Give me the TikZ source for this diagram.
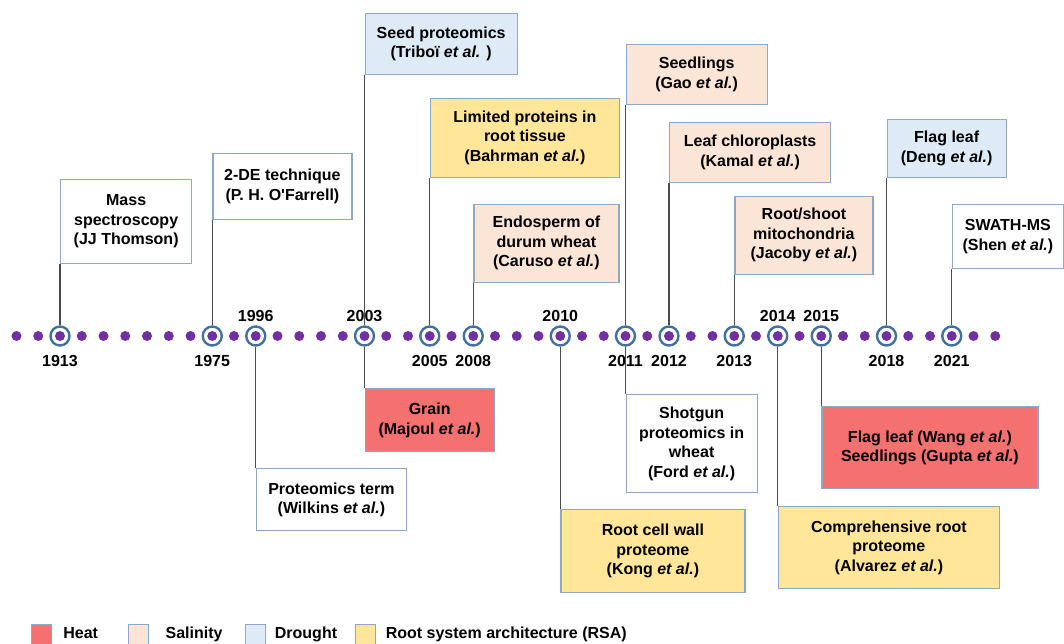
\documentclass[tikz,border=0pt]{standalone}
\usepackage{fontspec}
\setmainfont{Liberation Sans}
\usetikzlibrary{positioning}
\definecolor{heatc}{HTML}{F4716F}
\definecolor{saltc}{HTML}{FBE5D6}
\definecolor{dryc}{HTML}{DEEBF7}
\definecolor{rsac}{HTML}{FFE699}
\definecolor{edgec}{HTML}{8EA9C8}
\definecolor{ringc}{HTML}{41719C}
\definecolor{dotc}{HTML}{7030A0}
\tikzset{box/.style={rectangle,draw=edgec,line width=1.3pt,fill=white,inner sep=2pt,align=center,
font=\fontsize{16}{19.5}\selectfont\bfseries},
heat/.style={box,fill=heatc},
salt/.style={box,fill=saltc},
dry/.style={box,fill=dryc},
rsa/.style={box,fill=rsac},
tdot/.style={circle,fill=dotc,inner sep=0pt,minimum size=10pt},
yrring/.style={circle,draw=ringc,line width=2.4pt,inner sep=0pt,minimum size=19pt},
year/.style={inner sep=0pt,font=\fontsize{16}{16}\selectfont\bfseries},
stem/.style={draw=black!70,line width=1.3pt},
swatch/.style={rectangle,draw=edgec,line width=1pt,minimum width=20pt,minimum height=20pt,inner sep=0pt},
keytext/.style={inner sep=0pt,text height=11.5pt,text depth=3.4pt,font=\fontsize{16}{16}\selectfont\bfseries}}

\begin{document}
\begin{tikzpicture}[x=1pt,y=-1pt]
  \useasboundingbox (0,0) rectangle (1064,643);
  \foreach \i in {0,...,45}
    \node[tdot] at (16.5+21.75*\i,336) {};
  \node[yrring] (c1913) at (60,336) {};
  \node[yrring] (c1975) at (212.25,336) {};
  \node[yrring] (c1996) at (255.75,336) {};
  \node[yrring] (c2003) at (364.5,336) {};
  \node[yrring] (c2005) at (429.75,336) {};
  \node[yrring] (c2008) at (473.25,336) {};
  \node[yrring] (c2010) at (560.25,336) {};
  \node[yrring] (c2011) at (625.5,336) {};
  \node[yrring] (c2012) at (669,336) {};
  \node[yrring] (c2013) at (734.25,336) {};
  \node[yrring] (c2014) at (777.75,336) {};
  \node[yrring] (c2015) at (821.25,336) {};
  \node[yrring] (c2018) at (886.5,336) {};
  \node[yrring] (c2021) at (951.75,336) {};
  \node[year,below=8pt of c1913] {1913};
  \node[year,below=8pt of c1975] {1975};
  \node[year,above=3pt of c1996] {1996};
  \node[year,above=3pt of c2003] {2003};
  \node[year,below=8pt of c2005] {2005};
  \node[year,below=8pt of c2008] {2008};
  \node[year,above=3pt of c2010] {2010};
  \node[year,below=8pt of c2011] {2011};
  \node[year,below=8pt of c2012] {2012};
  \node[year,below=8pt of c2013] {2013};
  \node[year,above=3pt of c2014] {2014};
  \node[year,above=3pt of c2015] {2015};
  \node[year,below=8pt of c2018] {2018};
  \node[year,below=8pt of c2021] {2021};

  \node[box,minimum width=131pt,minimum height=84pt,anchor=south west] (mass) at (60,264) {Mass\\spectroscopy\\(JJ Thomson)};
  \node[box,minimum width=139pt,minimum height=66pt,anchor=south west] (ofarrell) at (212.25,220) {2-DE technique\\(P. H. O\textquotesingle Farrell)};
  \node[dry,minimum width=152pt,minimum height=61pt,anchor=south west] (triboi) at (364.5,75) {Seed proteomics\\(Triboï \textit{et al.} )};
  \node[rsa,minimum width=189pt,minimum height=79pt,anchor=south west] (bahrman) at (429.75,178) {Limited proteins in\\root tissue\\(Bahrman \textit{et al.})};
  \node[salt,minimum width=145pt,minimum height=78pt,anchor=south west] (caruso) at (473.25,283) {Endosperm of\\durum wheat\\(Caruso \textit{et al.})};
  \node[salt,minimum width=141pt,minimum height=60pt,anchor=south west] (gao) at (625.5,105) {Seedlings\\(Gao \textit{et al.})};
  \node[salt,minimum width=161pt,minimum height=60pt,anchor=south west] (kamal) at (669,183) {Leaf chloroplasts\\(Kamal \textit{et al.})};
  \node[salt,minimum width=138pt,minimum height=78pt,anchor=south west] (jacoby) at (734.25,275) {Root/shoot\\mitochondria\\(Jacoby \textit{et al.})};
  \node[dry,minimum width=119pt,minimum height=58pt,anchor=south west] (deng) at (886.5,178) {Flag leaf\\(Deng \textit{et al.})};
  \node[box,minimum width=111pt,minimum height=64pt,anchor=south west] (shen) at (951.75,269) {SWATH-MS\\(Shen \textit{et al.})};

  \node[box,minimum width=150pt,minimum height=62pt,anchor=north west] (wilkins) at (255.75,468) {Proteomics term\\(Wilkins \textit{et al.})};
  \node[heat,minimum width=129pt,minimum height=63pt,anchor=north west] (majoul) at (364.5,388) {Grain\\(Majoul \textit{et al.})};
  \node[rsa,minimum width=184pt,minimum height=83pt,anchor=north west] (kong) at (560.25,509) {Root cell wall\\proteome\\(Kong \textit{et al.})};
  \node[box,minimum width=131pt,minimum height=98pt,anchor=north west] (ford) at (625.5,394) {Shotgun\\proteomics in\\wheat\\(Ford \textit{et al.})};
  \node[rsa,minimum width=221pt,minimum height=82pt,anchor=north west] (alvarez) at (777.75,506) {Comprehensive root\\proteome\\(Alvarez \textit{et al.})};
  \node[heat,minimum width=216pt,minimum height=82pt,anchor=north west] (wang) at (821.25,406) {Flag leaf (Wang \textit{et al.})\\Seedlings (Gupta \textit{et al.})};

  \draw[stem] (c1913) -- (mass.south west);
  \draw[stem] (c1975) -- (ofarrell.south west);
  \draw[stem] (c2003) -- (triboi.south west);
  \draw[stem] (c2005) -- (bahrman.south west);
  \draw[stem] (c2008) -- (caruso.south west);
  \draw[stem] (c2011) -- (gao.south west);
  \draw[stem] (c2012) -- (kamal.south west);
  \draw[stem] (c2013) -- (jacoby.south west);
  \draw[stem] (c2018) -- (deng.south west);
  \draw[stem] (c2021) -- (shen.south west);
  \draw[stem] (c1996) -- (wilkins.north west);
  \draw[stem] (c2003) -- (majoul.north west);
  \draw[stem] (c2010) -- (kong.north west);
  \draw[stem] (c2011) -- (ford.north west);
  \draw[stem] (c2014) -- (alvarez.north west);
  \draw[stem] (c2015) -- (wang.north west);

  \node[swatch,fill=heatc] (kheat) at (41.7,634) {};
  \node[keytext,right=11pt of kheat] (theat) {Heat};
  \node[swatch,fill=saltc] (ksalt) at (138.9,634) {};
  \node[keytext,right=16pt of ksalt] (tsalt) {Salinity};
  \node[swatch,fill=dryc] (kdry) at (255.2,634) {};
  \node[keytext,right=9pt of kdry] (tdry) {Drought};
  \node[swatch,fill=rsac] (krsa) at (365.1,634) {};
  \node[keytext,right=10pt of krsa] (trsa) {Root system architecture (RSA)};
\end{tikzpicture}
\end{document}
